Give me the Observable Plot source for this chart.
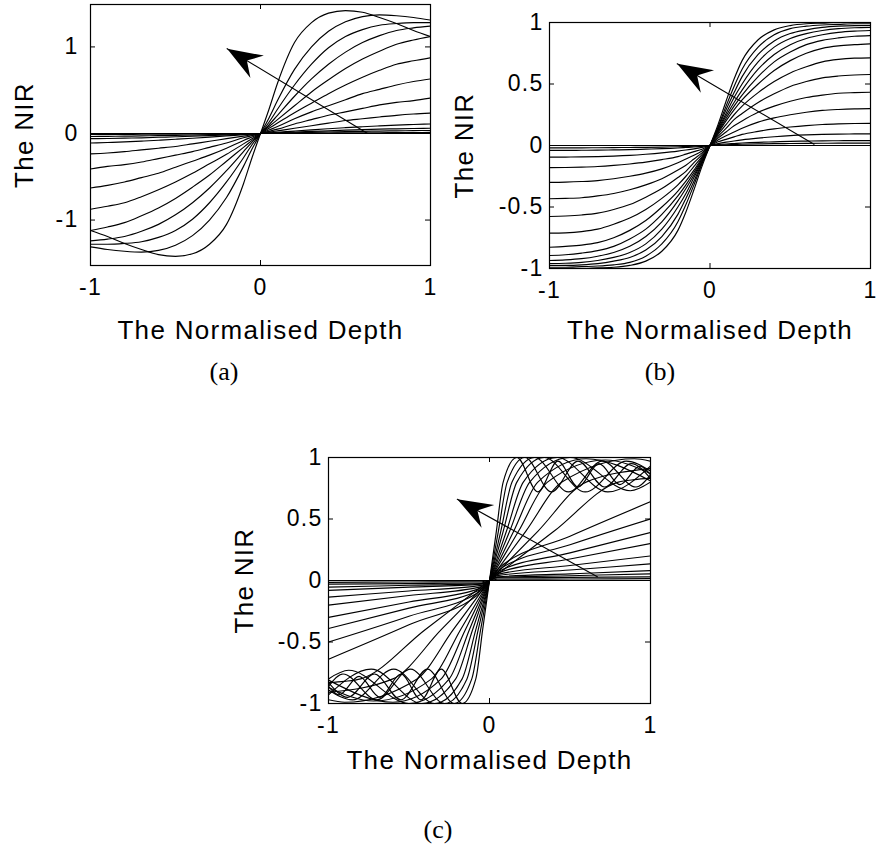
<!DOCTYPE html>
<html><head><meta charset="utf-8">
<script src="https://cdn.jsdelivr.net/npm/d3@7"></script>
<script src="https://cdn.jsdelivr.net/npm/@observablehq/plot@0.6"></script>
<style>
body{margin:0;background:#fff;width:876px;height:852px;position:relative;overflow:hidden;font-family:"Liberation Sans",Arial,sans-serif}
.panel{position:absolute}
.cap{position:absolute;font-family:"Liberation Serif","DejaVu Serif",serif;font-size:26px;transform:translate(-50%,-50%);color:#000}
</style></head><body>
<div id="pa" class="panel" style="left:0;top:0"></div>
<div id="pb" class="panel" style="left:440px;top:0"></div>
<div id="pc" class="panel" style="left:220px;top:420px"></div>
<div class="cap" style="left:224px;top:372px">(a)</div>
<div class="cap" style="left:660px;top:372px">(b)</div>
<div class="cap" style="left:438px;top:830px">(c)</div>
<script>
// ---------- shared labels / ticks ----------
const xLabel = "The Normalised Depth";
const yLabel = "The NIR";
const xTicks = [-1, 0, 1];
const yTicksA = [-1, 0, 1];
const yTicksB = [-1, -0.5, 0, 0.5, 1];
const yTicksC = [-1, -0.5, 0, 0.5, 1];

// ---------- panel (a) ----------
const xA = [-1,-.9,-.8,-.7,-.6,-.5,-.4,-.3,-.2,-.1,-.05,0,.05,.1,.2,.3,.4,.5,.6,.7,.8,.9,1];
const a1 = [-1.12,-1.19,-1.27,-1.34,-1.40,-1.42,-1.39,-1.28,-1.05,-.58,-.28,0,.28,.58,1.05,1.28,1.39,1.42,1.40,1.34,1.27,1.19,1.12];
const a2 = [-1.31,-1.34,-1.36,-1.37,-1.35,-1.29,-1.18,-1.00,-.74,-.38,-.18,0,.18,.38,.74,1.00,1.18,1.29,1.35,1.37,1.36,1.34,1.31];
const a3 = [-1.28,-1.28,-1.27,-1.25,-1.20,-1.12,-.99,-.80,-.56,-.28,-.13,0,.13,.28,.56,.80,.99,1.12,1.20,1.25,1.27,1.28,1.28];
const a4 = [-1.24,-1.22,-1.19,-1.13,-1.05,-.94,-.80,-.63,-.43,-.21,-.10,0,.10,.21,.43,.63,.80,.94,1.05,1.13,1.19,1.22,1.24];
const a5 = [-1.12,-1.08,-1.03,-.95,-.86,-.75,-.62,-.48,-.32,-.16,-.08,0,.08,.16,.32,.48,.62,.75,.86,.95,1.03,1.08,1.12];
const a6 = [-.875,-.84,-.80,-.73,-.65,-.56,-.46,-.35,-.24,-.12,-.06,0,.06,.12,.24,.35,.46,.56,.65,.73,.80,.84,.875];
const a7 = [-.63,-.60,-.56,-.51,-.46,-.39,-.32,-.25,-.17,-.08,-.04,0,.04,.08,.17,.25,.32,.39,.46,.51,.56,.60,.63];
const a8 = [-.41,-.38,-.36,-.33,-.29,-.25,-.21,-.16,-.11,-.05,-.025,0,.025,.05,.11,.16,.21,.25,.29,.33,.36,.38,.41];
const a9 = [-.235,-.225,-.21,-.19,-.17,-.15,-.12,-.09,-.06,-.03,-.015,0,.015,.03,.06,.09,.12,.15,.17,.19,.21,.225,.235];
const a10 = [-.11,-.104,-.097,-.088,-.078,-.067,-.055,-.042,-.028,-.014,-.007,0,.007,.014,.028,.042,.055,.067,.078,.088,.097,.104,.11];
const a11 = [-.06,-.058,-.054,-.05,-.044,-.038,-.031,-.024,-.016,-.008,-.004,0,.004,.008,.016,.024,.031,.038,.044,.05,.054,.058,.06];
const a12 = [-.035,-.033,-.031,-.028,-.025,-.021,-.017,-.013,-.009,-.004,-.002,0,.002,.004,.009,.013,.017,.021,.025,.028,.031,.033,.035];
const a13 = [-.012,-.011,-.01,-.009,-.008,-.007,-.006,-.005,-.003,-.002,-.001,0,.001,.002,.003,.005,.006,.007,.008,.009,.01,.011,.012];
const a14 = [0,0,0,0,0,0,0,0,0,0,0,0,0,0,0,0,0,0,0,0,0,0,0];
const arrowA = [{x: 0.63, y: 0}, {x: -0.196, y: 0.98}];

// ---------- panel (b) ----------
const xB = [-1,-.9,-.8,-.7,-.6,-.5,-.4,-.3,-.2,-.15,-.1,-.05,0,.05,.1,.15,.2,.3,.4,.5,.6,.7,.8,.9,1];
const b1 = [-1,-1,-1,-.995,-.99,-.975,-.94,-.86,-.69,-.54,-.36,-.17,0,.17,.36,.54,.69,.86,.94,.975,.99,.995,1,1,1];
const b2 = [-.99,-.99,-.985,-.98,-.97,-.95,-.90,-.80,-.62,-.48,-.32,-.15,0,.15,.32,.48,.62,.80,.90,.95,.97,.98,.985,.99,.99];
const b3 = [-.976,-.975,-.97,-.96,-.94,-.91,-.85,-.74,-.56,-.43,-.29,-.14,0,.14,.29,.43,.56,.74,.85,.91,.94,.96,.97,.975,.976];
const b4 = [-.96,-.957,-.95,-.935,-.91,-.87,-.80,-.68,-.50,-.39,-.26,-.13,0,.13,.26,.39,.50,.68,.80,.87,.91,.935,.95,.957,.96];
const b5 = [-.935,-.93,-.92,-.90,-.87,-.82,-.74,-.62,-.45,-.35,-.24,-.12,0,.12,.24,.35,.45,.62,.74,.82,.87,.90,.92,.93,.935];
const b6 = [-.894,-.888,-.875,-.855,-.82,-.76,-.68,-.56,-.41,-.32,-.22,-.11,0,.11,.22,.32,.41,.56,.68,.76,.82,.855,.875,.888,.894];
const b7 = [-.827,-.82,-.81,-.79,-.75,-.69,-.61,-.50,-.37,-.29,-.20,-.10,0,.10,.20,.29,.37,.50,.61,.69,.75,.79,.81,.82,.827];
const b8 = [-.713,-.71,-.70,-.68,-.64,-.59,-.52,-.43,-.32,-.25,-.17,-.09,0,.09,.17,.25,.32,.43,.52,.59,.64,.68,.70,.71,.713];
const b9 = [-.577,-.573,-.565,-.55,-.52,-.48,-.42,-.35,-.26,-.21,-.14,-.075,0,.075,.14,.21,.26,.35,.42,.48,.52,.55,.565,.573,.577];
const b10 = [-.433,-.43,-.425,-.41,-.39,-.36,-.32,-.27,-.20,-.16,-.11,-.06,0,.06,.11,.16,.20,.27,.32,.36,.39,.41,.425,.43,.433];
const b11 = [-.30,-.298,-.293,-.285,-.27,-.25,-.225,-.19,-.14,-.11,-.08,-.045,0,.045,.08,.11,.14,.19,.225,.25,.27,.285,.293,.298,.30];
const b12 = [-.18,-.179,-.176,-.171,-.162,-.15,-.135,-.115,-.09,-.07,-.05,-.03,0,.03,.05,.07,.09,.115,.135,.15,.162,.171,.176,.179,.18];
const b13 = [-.095,-.094,-.093,-.09,-.086,-.08,-.071,-.06,-.046,-.037,-.027,-.015,0,.015,.027,.037,.046,.06,.071,.08,.086,.09,.093,.094,.095];
const b14 = [-.04,-.04,-.039,-.038,-.036,-.034,-.03,-.026,-.02,-.016,-.012,-.007,0,.007,.012,.016,.02,.026,.03,.034,.036,.038,.039,.04,.04];
const b15 = [-.019,-.019,-.019,-.018,-.017,-.016,-.015,-.013,-.01,-.008,-.006,-.003,0,.003,.006,.008,.01,.013,.015,.016,.017,.018,.019,.019,.019];
const b16 = [0,0,0,0,0,0,0,0,0,0,0,0,0,0,0,0,0,0,0,0,0,0,0,0,0];
const arrowB = [{x: 0.648, y: 0.01}, {x: -0.204, y: 0.664}];

// ---------- panel (c) ----------
// saturating curves with ripple (peaks / troughs)
const m1x = [-1,-.935,-.81,-.68,-.55,-.425,-.30,-.17,-.085,-.0425,0,.0425,.085,.17,.30,.425,.55,.68,.81,.935,1];
const m1y = [-.86,-.93,-.78,-.95,-.76,-.97,-.72,-1.0,-.80,-.40,0,.40,.80,1.0,.72,.97,.76,.95,.78,.93,.86];
const m2x = [-1,-.88,-.715,-.55,-.385,-.22,-.11,-.055,0,.055,.11,.22,.385,.55,.715,.88,1];
const m2y = [-.83,-.95,-.76,-.97,-.72,-1.0,-.80,-.40,0,.40,.80,1.0,.72,.97,.76,.95,.83];
const m3x = [-1,-.91,-.70,-.49,-.28,-.14,-.07,0,.07,.14,.28,.49,.70,.91,1];
const m3y = [-.86,-.76,-.97,-.72,-1.0,-.80,-.40,0,.40,.80,1.0,.72,.97,.76,.86];
const m4x = [-1,-.85,-.595,-.34,-.17,-.085,0,.085,.17,.34,.595,.85,1];
const m4y = [-.89,-.97,-.72,-1.0,-.80,-.40,0,.40,.80,1.0,.72,.97,.89];
const m5x = [-1,-.735,-.42,-.21,-.105,0,.105,.21,.42,.735,1];
const m5y = [-.93,-.72,-1.0,-.80,-.40,0,.40,.80,1.0,.72,.93];
const m6x = [-1,-.875,-.5,-.25,-.125,0,.125,.25,.5,.875,1];
const m6y = [-.80,-.73,-1.0,-.80,-.40,0,.40,.80,1.0,.73,.80];
const m7x = [-1,-.6,-.3,-.15,0,.15,.3,.6,1];
const m7y = [-.81,-.99,-.80,-.40,0,.40,.80,.99,.81];
const m8x = [-1,-.72,-.36,-.18,0,.18,.36,.72,1];
const m8y = [-.87,-.98,-.80,-.40,0,.40,.80,.98,.87];
const m9x = [-1,-.9,-.45,-.225,0,.225,.45,.9,1];
const m9y = [-.97,-.99,-.80,-.40,0,.40,.80,.99,.97];
const m10x = [-1,-.6,-.3,0,.3,.6,1];
const m10y = [-.91,-.80,-.40,0,.40,.80,.91];
const s1x = [-1,-.9,-.8,-.4,0,.4,.8,.9,1];
const s1y = [-.83,-.82,-.80,-.40,0,.40,.80,.82,.83];
// straight fan curves
const xCg = [-1,-.5,-.05,0,.05,.5,1];
const f1 = [-.64,-.36,-.09,0,.09,.36,.64];
const f2 = [-.50,-.29,-.08,0,.08,.29,.50];
const f3 = [-.39,-.225,-.07,0,.07,.225,.39];
const f4 = [-.30,-.175,-.06,0,.06,.175,.30];
const f5 = [-.20,-.122,-.05,0,.05,.122,.20];
const f6 = [-.135,-.085,-.04,0,.04,.085,.135];
const f7 = [-.08,-.054,-.03,0,.03,.054,.08];
const f8 = [-.054,-.039,-.025,0,.025,.039,.054];
const f9 = [-.03,-.025,-.02,0,.02,.025,.03];
const f10 = [-.015,-.012,-.01,0,.01,.012,.015];
const f11 = [0,0,0,0,0,0,0];
const arrowC = [{x: 0.67, y: 0.03}, {x: -0.2, y: 0.66}];

// ---------- drawing ----------
const dart = {draw(ctx) { ctx.moveTo(0, 0); ctx.lineTo(13, 35); ctx.lineTo(0, 23); ctx.lineTo(-13, 35); ctx.closePath(); }};

function panel(o) {
  const rows = [];
  o.series.forEach(([xs, ys], k) => ys.forEach((y, i) => rows.push({x: xs[i], y, k})));
  const innerW = o.width - o.mL - o.mR, innerH = o.height - o.mT - o.mB;
  const kx = innerW / 2, ky = innerH / (o.yDomain[1] - o.yDomain[0]);
  const [tail, tip] = o.arrow;
  const angle = Math.atan2((tip.x - tail.x) * kx, (tip.y - tail.y) * ky) * 180 / Math.PI;
  const fmt = d => String(d);
  const chart = Plot.plot({
    width: o.width, height: o.height,
    marginLeft: o.mL, marginRight: o.mR, marginTop: o.mT, marginBottom: o.mB,
    style: {fontFamily: '"Liberation Sans", Arial, sans-serif', fontSize: "23px", letterSpacing: "1.3px", color: "black", background: "white", overflow: "visible"},
    x: {domain: [-1, 1]},
    y: {domain: o.yDomain},
    marks: [
      Plot.line(rows, {x: "x", y: "y", z: "k", stroke: "black", strokeWidth: 1.15, curve: o.curve, clip: true}),
      Plot.line(o.arrow, {x: "x", y: "y", stroke: "black", strokeWidth: 1.15}),
      Plot.dot([tip], {x: "x", y: "y", symbol: dart, r: 10, fill: "black", stroke: "none", rotate: angle}),
      Plot.ruleX(xTicks, {insetTop: innerH - 5, stroke: "black"}),
      Plot.ruleX(xTicks, {insetBottom: innerH - 5, stroke: "black"}),
      Plot.ruleY(o.yTicks, {insetRight: innerW - 5, stroke: "black"}),
      Plot.ruleY(o.yTicks, {insetLeft: innerW - 5, stroke: "black"}),
      Plot.axisX({ticks: xTicks, tickSize: 0, tickPadding: 13, tickFormat: fmt, label: null}),
      Plot.axisY({ticks: o.yTicks, tickSize: 0, tickPadding: o.padY, tickFormat: fmt, label: null}),
      Plot.text([xLabel], {frameAnchor: "bottom", dy: o.xLabDy, fontSize: 26, lineAnchor: "middle"}),
      Plot.text([yLabel], {frameAnchor: "left", dx: -o.yLabDx, rotate: -90, fontSize: 26, lineAnchor: "middle", textAnchor: "middle"}),
      Plot.frame({stroke: "black", strokeWidth: 1.2})
    ]
  });
  document.getElementById(o.el).append(chart);
}

panel({el: "pa", width: 440, height: 345, mL: 90, mR: 10, mT: 4, mB: 80,
  series: [a1,a2,a3,a4,a5,a6,a7,a8,a9,a10,a11,a12,a13,a14].map(ys => [xA, ys]),
  yDomain: [-1.525, 1.49], yTicks: yTicksA,
  arrow: arrowA, curve: "monotone-x", padY: 12, xLabDy: 65, yLabDx: 66});
panel({el: "pb", width: 436, height: 345, mL: 109, mR: 6, mT: 22, mB: 77,
  series: [b1,b2,b3,b4,b5,b6,b7,b8,b9,b10,b11,b12,b13,b14,b15,b16].map(ys => [xB, ys]),
  yDomain: [-1, 1], yTicks: yTicksB,
  arrow: arrowB, curve: "monotone-x", padY: 6, xLabDy: 62, yLabDx: 85});
panel({el: "pc", width: 440, height: 360, mL: 108, mR: 10, mT: 37, mB: 77,
  series: [[m1x,m1y],[m2x,m2y],[m3x,m3y],[m4x,m4y],[m5x,m5y],[m6x,m6y],[m7x,m7y],[m8x,m8y],[m9x,m9y],[m10x,m10y],[s1x,s1y],
           ...[f1,f2,f3,f4,f5,f6,f7,f8,f9,f10,f11].map(ys => [xCg, ys])],
  yDomain: [-1, 1], yTicks: yTicksC,
  arrow: arrowC, curve: "monotone-x", padY: 6, xLabDy: 57, yLabDx: 84});
</script>
</body></html>
